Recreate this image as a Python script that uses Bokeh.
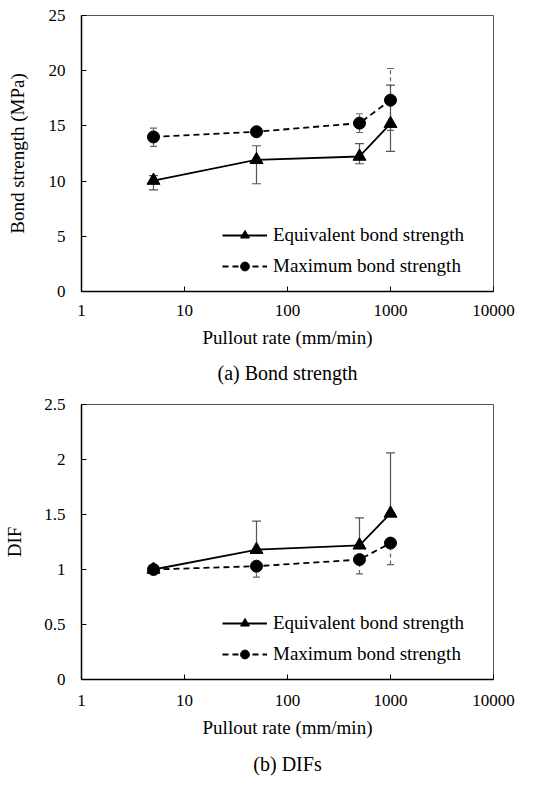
from bokeh.plotting import figure
from bokeh.models import (ColumnDataSource, Whisker, Legend, LegendItem, Title,
                          FixedTicker, TeeHead, Range1d)
from bokeh.layouts import column
from bokeh.embed import file_html
from bokeh.resources import INLINE

# ---- data ----
rates = [5, 50, 500, 1000]
x_ticks = [1, 10, 100, 1000, 10000]

eq_strength = [10.05, 11.93, 12.23, 15.2]
eq_strength_lo = [9.2, 9.76, 11.57, 12.7]
eq_strength_hi = [10.5, 13.2, 13.4, 18.7]

max_strength = [14.0, 14.47, 15.25, 17.33]
max_strength_lo = [13.14, 14.3, 14.4, 14.6]
max_strength_hi = [14.8, 14.65, 16.1, 20.2]

eq_dif = [1.0, 1.18, 1.22, 1.51]
eq_dif_hi = [1.0, 1.44, 1.47, 2.06]
eq_dif_lo = [1.0, 1.18, 1.22, 1.51]

max_dif = [1.0, 1.03, 1.09, 1.24]
max_dif_lo = [1.0, 0.93, 0.96, 1.045]
max_dif_hi = [1.0, 1.03, 1.09, 1.24]

FONT = "Liberation Serif"


def make_panel(height, border_top, border_bottom, border_right, y_max, y_ticks,
               y_label, caption, eq, eq_lo, eq_hi, mx, mx_lo, mx_hi, tick_fmt,
               ylabel_standoff, xlabel_standoff, cap_standoff):
    p = figure(width=558, height=height, x_axis_type="log",
               x_range=Range1d(1, 10000), y_range=Range1d(0, y_max),
               output_backend="svg", toolbar_location=None,
               min_border_left=81, min_border_right=border_right,
               min_border_top=border_top, min_border_bottom=border_bottom)
    p.xgrid.visible = False
    p.ygrid.visible = False
    p.outline_line_color = "#555555"
    p.outline_line_width = 1
    p.background_fill_color = "white"
    p.border_fill_color = "white"

    for ax in (p.xaxis[0], p.yaxis[0]):
        ax.axis_line_color = "black"
        ax.axis_line_width = 1.5
        ax.major_tick_in = 5
        ax.major_tick_out = 0
        ax.minor_tick_in = 0
        ax.minor_tick_out = 0
        ax.major_tick_line_color = "black"
        ax.major_label_text_font = FONT
        ax.major_label_text_font_size = "17px"
        ax.major_label_text_color = "black"
        ax.axis_label_text_font = FONT
        ax.axis_label_text_font_size = "19px"
        ax.axis_label_text_font_style = "normal"
        ax.axis_label_text_color = "black"

    p.xaxis.ticker = FixedTicker(ticks=x_ticks)
    p.xaxis.major_label_overrides = {t: str(t) for t in x_ticks}
    p.xaxis.axis_label = "Pullout rate (mm/min)"
    p.xaxis.major_label_standoff = xlabel_standoff
    p.xaxis.axis_label_standoff = 8
    p.yaxis.ticker = FixedTicker(ticks=y_ticks)
    p.yaxis.major_label_overrides = {t: tick_fmt(t) for t in y_ticks}
    p.yaxis.axis_label = y_label
    p.yaxis.major_label_standoff = 16
    p.yaxis.axis_label_standoff = ylabel_standoff

    src_eq = ColumnDataSource(dict(x=rates, y=eq, lo=eq_lo, hi=eq_hi))
    src_mx = ColumnDataSource(dict(x=rates, y=mx, lo=mx_lo, hi=mx_hi))

    w_mx = Whisker(source=src_mx, base="x", lower="lo", upper="hi",
                   line_color="#666666", line_width=1.2, line_dash="4 3",
                   upper_head=TeeHead(size=7, line_color="#666666", line_width=1.2),
                   lower_head=TeeHead(size=7, line_color="#666666", line_width=1.2))
    w_eq = Whisker(source=src_eq, base="x", lower="lo", upper="hi",
                   line_color="#555555", line_width=1.2,
                   upper_head=TeeHead(size=9, line_color="#555555", line_width=1.2),
                   lower_head=TeeHead(size=9, line_color="#555555", line_width=1.2))
    p.add_layout(w_mx)
    p.add_layout(w_eq)

    l_mx = p.line("x", "y", source=src_mx, line_color="black", line_width=1.8,
                  line_dash="6 4")
    s_mx = p.scatter("x", "y", source=src_mx, marker="circle", size=12,
                     fill_color="black", line_color="black")
    l_eq = p.line("x", "y", source=src_eq, line_color="black", line_width=1.8)
    s_eq = p.scatter("x", "y", source=src_eq, marker="triangle", size=13,
                     fill_color="black", line_color="black")

    legend = Legend(items=[
        LegendItem(label="Equivalent bond strength", renderers=[l_eq, s_eq]),
        LegendItem(label="Maximum bond strength", renderers=[l_mx, s_mx]),
    ], location=(141, 14))
    legend.background_fill_alpha = 0
    legend.border_line_color = None
    legend.padding = 0
    legend.margin = 0
    legend.spacing = 9
    legend.glyph_width = 45
    legend.glyph_height = 22
    legend.label_height = 22
    legend.label_standoff = 6
    legend.label_text_font = FONT
    legend.label_text_font_size = "19px"
    legend.label_text_color = "black"
    p.add_layout(legend, "center")

    cap = Title(text=caption, align="center", text_font=FONT,
                text_font_size="20px", text_font_style="normal",
                text_color="black", standoff=cap_standoff)
    p.add_layout(cap, "below")
    return p


p1 = make_panel(393, 15, 102, 60, 25, [0, 5, 10, 15, 20, 25],
                "Bond strength (MPa)", "(a) Bond strength",
                eq_strength, eq_strength_lo, eq_strength_hi,
                max_strength, max_strength_lo, max_strength_hi,
                lambda t: str(t), 18, 13, 18)
p2 = make_panel(392, 11, 106, 65, 2.5, [0, 0.5, 1, 1.5, 2, 2.5],
                "DIF", "(b) DIFs",
                eq_dif, eq_dif_lo, eq_dif_hi,
                max_dif, max_dif_lo, max_dif_hi,
                lambda t: ("%g" % t), 16, 15, 20)

layout = column(p1, p2, spacing=0)
open("out.html", "w").write(file_html(layout, INLINE))
